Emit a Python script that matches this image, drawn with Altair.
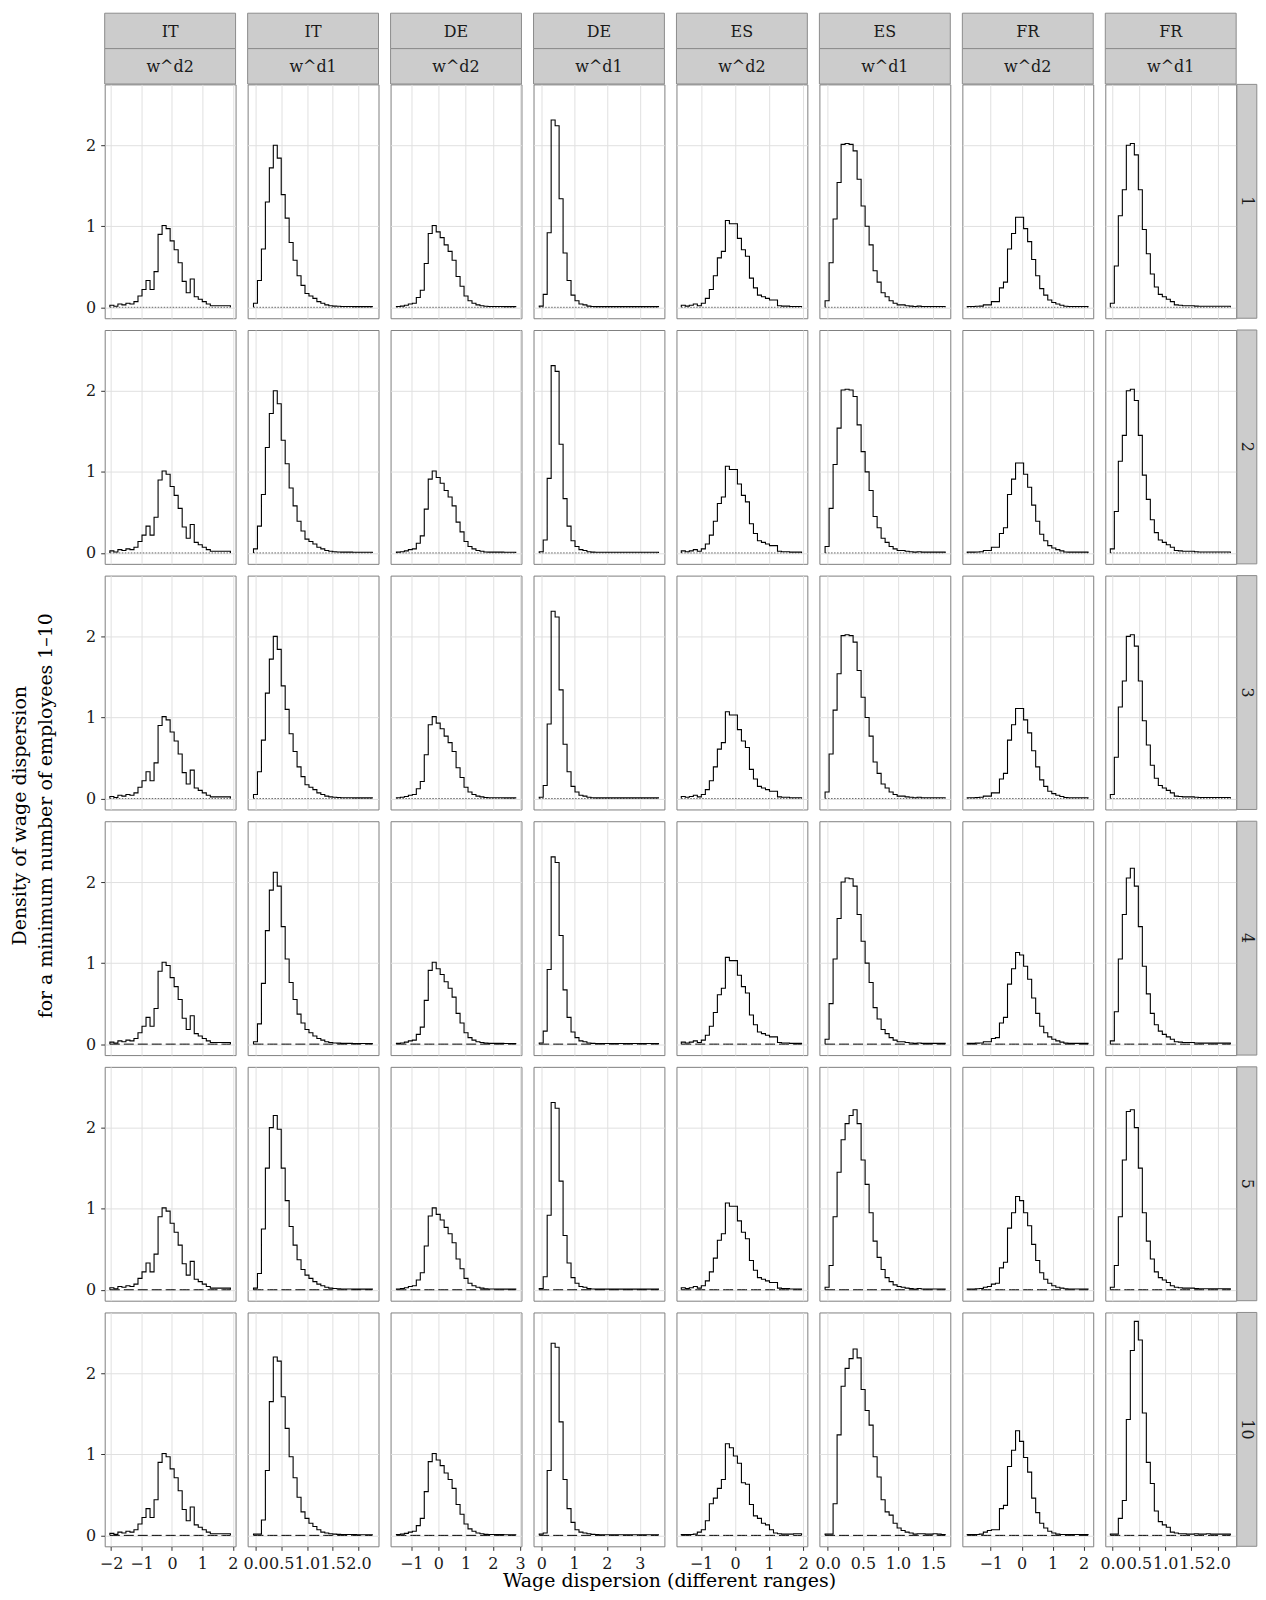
import altair as alt
import pandas as pd

FONT = "DejaVu Serif"

COUNTRIES = ["IT", "IT", "DE", "DE", "ES", "ES", "FR", "FR"]
MEASURES = ["w^d2", "w^d1", "w^d2", "w^d1", "w^d2", "w^d1", "w^d2", "w^d1"]
ROWS = ["1", "2", "3", "4", "5", "10"]

BIN_START = [-2.04, -0.04, -1.54, -0.06, -1.578, -0.038, -1.758, -0.044]
BIN_WIDTH = [0.132, 0.077, 0.146, 0.121, 0.1176, 0.057, 0.130, 0.0761]

X_DOMAIN = [[-2.21, 2.09], [-0.154, 2.39], [-1.755, 3.05], [-0.234, 3.75],
            [-1.72, 2.12], [-0.119, 1.745], [-1.916, 2.31], [-0.14, 2.35]]
X_TICKS = [[-2, -1, 0, 1, 2], [0, 0.5, 1, 1.5, 2], [-1, 0, 1, 2, 3], [0, 1, 2, 3],
           [-1, 0, 1, 2], [0, 0.5, 1, 1.5], [-1, 0, 1, 2], [0, 0.5, 1, 1.5, 2]]
X_FORMAT = ["d", ".1f", "d", "d", "d", ".1f", "d", ".1f"]
Y_TICKS = [0, 1, 2]
Y_DOMAIN = [-0.135, 2.75]

IT_D2 = [0.025, 0.012, 0.04, 0.03, 0.05, 0.04, 0.07, 0.14, 0.22, 0.33, 0.22, 0.44, 0.90, 1.01, 0.97,
         0.82, 0.71, 0.55, 0.32, 0.18, 0.35, 0.13, 0.10, 0.07, 0.04, 0.02, 0.02, 0.02, 0.02, 0.02]
IT_D1_R1 = [0.05, 0.33, 0.72, 1.30, 1.72, 2.00, 1.84, 1.39, 1.10, 0.80, 0.58, 0.39, 0.27, 0.17, 0.14,
            0.11, 0.07, 0.05, 0.03, 0.02, 0.015, 0.012, 0.01, 0.01, 0.01, 0.008, 0.008, 0.008, 0.008, 0.008]
IT_D1_R4 = [0.03, 0.25, 0.75, 1.40, 1.90, 2.12, 1.95, 1.45, 1.05, 0.76, 0.55, 0.37, 0.26, 0.18, 0.14,
            0.10, 0.07, 0.05, 0.03, 0.02, 0.015, 0.012, 0.01, 0.01, 0.01, 0.008, 0.008, 0.008, 0.008, 0.008]
IT_D1_R5 = [0.02, 0.20, 0.75, 1.50, 2.00, 2.15, 1.98, 1.50, 1.10, 0.78, 0.55, 0.37, 0.25, 0.18, 0.14,
            0.10, 0.07, 0.05, 0.03, 0.02, 0.015, 0.012, 0.01, 0.01, 0.01, 0.008, 0.008, 0.008, 0.008, 0.008]
IT_D1_R10 = [0.015, 0.015, 0.19, 0.80, 1.65, 2.20, 2.15, 1.71, 1.32, 0.97, 0.71, 0.47, 0.29, 0.21, 0.15,
             0.11, 0.07, 0.04, 0.03, 0.02, 0.015, 0.012, 0.01, 0.01, 0.01, 0.01, 0.008, 0.008, 0.008, 0.008]
DE_D2 = [0.01, 0.015, 0.025, 0.04, 0.05, 0.12, 0.21, 0.54, 0.91, 1.01, 0.93, 0.86, 0.77, 0.69, 0.58,
         0.38, 0.26, 0.14, 0.08, 0.05, 0.03, 0.02, 0.012, 0.01, 0.01, 0.01, 0.01, 0.008, 0.008, 0.008]
DE_D1_R1 = [0.015, 0.16, 0.92, 2.31, 2.24, 1.34, 0.67, 0.33, 0.15, 0.08, 0.04, 0.03, 0.015, 0.01, 0.008,
            0.008, 0.008, 0.008, 0.008, 0.008, 0.008, 0.008, 0.008, 0.008, 0.008, 0.008, 0.008, 0.008, 0.008, 0.008]
DE_D1_R10 = [0.015, 0.03, 0.80, 2.37, 2.32, 1.40, 0.69, 0.33, 0.16, 0.07, 0.04, 0.03, 0.02, 0.012, 0.01,
             0.008, 0.008, 0.008, 0.008, 0.008, 0.008, 0.008, 0.008, 0.008, 0.008, 0.008, 0.008, 0.008, 0.008, 0.008]
ES_D2_R1 = [0.025, 0.015, 0.025, 0.04, 0.02, 0.05, 0.11, 0.22, 0.39, 0.61, 0.69, 1.07, 1.03, 1.03, 0.85,
            0.71, 0.63, 0.36, 0.24, 0.15, 0.13, 0.11, 0.09, 0.09, 0.02, 0.015, 0.015, 0.01, 0.01, 0.01]
ES_D2_R10 = [0.01, 0.01, 0.01, 0.015, 0.04, 0.07, 0.18, 0.39, 0.46, 0.58, 0.69, 1.13, 1.08, 0.98, 0.89,
             0.65, 0.63, 0.38, 0.24, 0.21, 0.15, 0.13, 0.07, 0.03, 0.02, 0.015, 0.015, 0.015, 0.02, 0.02]
ES_D1_R1 = [0.08, 0.55, 1.09, 1.54, 2.01, 2.02, 2.01, 1.93, 1.58, 1.25, 1.00, 0.77, 0.45, 0.31, 0.18,
            0.13, 0.08, 0.05, 0.03, 0.03, 0.02, 0.015, 0.01, 0.015, 0.01, 0.01, 0.01, 0.01, 0.01, 0.01]
ES_D1_R4 = [0.06, 0.50, 1.05, 1.55, 2.00, 2.05, 2.04, 1.95, 1.60, 1.27, 1.00, 0.76, 0.45, 0.31, 0.18,
            0.13, 0.08, 0.05, 0.03, 0.03, 0.02, 0.015, 0.01, 0.015, 0.01, 0.01, 0.01, 0.01, 0.01, 0.01]
ES_D1_R5 = [0.03, 0.30, 0.90, 1.45, 1.85, 2.05, 2.15, 2.22, 2.05, 1.60, 1.30, 0.95, 0.60, 0.40, 0.25,
            0.15, 0.10, 0.06, 0.04, 0.03, 0.02, 0.015, 0.01, 0.015, 0.01, 0.01, 0.01, 0.01, 0.01, 0.01]
ES_D1_R10 = [0.015, 0.015, 0.39, 1.24, 1.84, 2.06, 2.18, 2.30, 2.19, 1.80, 1.54, 1.36, 0.97, 0.72, 0.44,
             0.29, 0.25, 0.15, 0.09, 0.06, 0.04, 0.03, 0.015, 0.02, 0.02, 0.015, 0.015, 0.02, 0.015, 0.01]
FR_D2_R1 = [0.01, 0.01, 0.012, 0.015, 0.03, 0.03, 0.07, 0.07, 0.24, 0.31, 0.72, 0.91, 1.11, 1.11, 0.97,
            0.81, 0.59, 0.39, 0.23, 0.15, 0.09, 0.06, 0.04, 0.025, 0.012, 0.01, 0.01, 0.01, 0.01, 0.01]
FR_D2_R4 = [0.01, 0.01, 0.012, 0.015, 0.03, 0.03, 0.07, 0.08, 0.26, 0.33, 0.74, 0.93, 1.13, 1.10, 0.96,
            0.80, 0.57, 0.38, 0.22, 0.14, 0.09, 0.06, 0.04, 0.025, 0.012, 0.01, 0.01, 0.01, 0.01, 0.01]
FR_D2_R5 = [0.01, 0.01, 0.012, 0.015, 0.03, 0.04, 0.07, 0.08, 0.27, 0.34, 0.76, 0.95, 1.15, 1.10, 0.95,
            0.79, 0.56, 0.36, 0.21, 0.13, 0.08, 0.05, 0.03, 0.02, 0.012, 0.01, 0.01, 0.01, 0.01, 0.01]
FR_D2_R10 = [0.01, 0.01, 0.01, 0.015, 0.04, 0.06, 0.07, 0.07, 0.33, 0.37, 0.85, 1.05, 1.29, 1.16, 0.96,
             0.78, 0.46, 0.28, 0.15, 0.09, 0.05, 0.03, 0.015, 0.01, 0.01, 0.01, 0.01, 0.01, 0.01, 0.01]
FR_D1_R1 = [0.05, 0.51, 1.13, 1.45, 2.00, 2.02, 1.88, 1.45, 0.96, 0.66, 0.41, 0.25, 0.16, 0.13, 0.10,
            0.07, 0.03, 0.025, 0.02, 0.02, 0.02, 0.015, 0.012, 0.012, 0.012, 0.012, 0.012, 0.012, 0.012, 0.012]
FR_D1_R4 = [0.04, 0.40, 1.05, 1.60, 2.05, 2.17, 1.95, 1.45, 0.96, 0.62, 0.38, 0.24, 0.16, 0.12, 0.09,
            0.06, 0.03, 0.025, 0.02, 0.02, 0.02, 0.015, 0.012, 0.012, 0.012, 0.012, 0.012, 0.012, 0.012, 0.012]
FR_D1_R5 = [0.03, 0.30, 0.90, 1.60, 2.20, 2.22, 2.00, 1.50, 0.95, 0.60, 0.38, 0.22, 0.15, 0.12, 0.09,
            0.05, 0.03, 0.025, 0.02, 0.02, 0.02, 0.015, 0.012, 0.012, 0.012, 0.012, 0.012, 0.012, 0.012, 0.012]
FR_D1_R10 = [0.015, 0.015, 0.21, 0.43, 1.43, 2.28, 2.64, 2.41, 1.51, 0.90, 0.64, 0.30, 0.17, 0.13, 0.10,
             0.04, 0.03, 0.02, 0.02, 0.015, 0.015, 0.02, 0.015, 0.015, 0.02, 0.015, 0.015, 0.015, 0.015, 0.015]

SERIES = {
    0: {"1": IT_D2, "2": IT_D2, "3": IT_D2, "4": IT_D2, "5": IT_D2, "10": IT_D2},
    1: {"1": IT_D1_R1, "2": IT_D1_R1, "3": IT_D1_R1, "4": IT_D1_R4, "5": IT_D1_R5, "10": IT_D1_R10},
    2: {"1": DE_D2, "2": DE_D2, "3": DE_D2, "4": DE_D2, "5": DE_D2, "10": DE_D2},
    3: {"1": DE_D1_R1, "2": DE_D1_R1, "3": DE_D1_R1, "4": DE_D1_R1, "5": DE_D1_R1, "10": DE_D1_R10},
    4: {"1": ES_D2_R1, "2": ES_D2_R1, "3": ES_D2_R1, "4": ES_D2_R1, "5": ES_D2_R1, "10": ES_D2_R10},
    5: {"1": ES_D1_R1, "2": ES_D1_R1, "3": ES_D1_R1, "4": ES_D1_R4, "5": ES_D1_R5, "10": ES_D1_R10},
    6: {"1": FR_D2_R1, "2": FR_D2_R1, "3": FR_D2_R1, "4": FR_D2_R4, "5": FR_D2_R5, "10": FR_D2_R10},
    7: {"1": FR_D1_R1, "2": FR_D1_R1, "3": FR_D1_R1, "4": FR_D1_R4, "5": FR_D1_R5, "10": FR_D1_R10},
}

records = []
for ci in range(8):
    a, bw = BIN_START[ci], BIN_WIDTH[ci]
    for r in ROWS:
        vals = SERIES[ci][r]
        end = a + len(vals) * bw
        pts = [(a, 0.0)] + [(a + k * bw, v) for k, v in enumerate(vals)] + [(end, vals[-1]), (end, 0.0)]
        for i, (x, y) in enumerate(pts):
            records.append({"panel": ci, "row": r, "i": i, "x": x, "y": y})
df = pd.DataFrame(records)

W = 131.3
H = 234.6
SP = 11.4
STRIP_W = 20
HEAD_H = 71
TRANSPARENT = alt.ViewBackground(stroke="transparent")
STRIP_FONT = 16


def header(ci):
    d = pd.DataFrame({"c": [COUNTRIES[ci]], "m": [MEASURES[ci]]})
    base = alt.Chart(d)
    r1 = base.mark_rect(fill="#cccccc", stroke="#8c8c8c", strokeWidth=1).encode(
        x=alt.value(0), x2=alt.value(W), y=alt.value(0), y2=alt.value(HEAD_H / 2))
    r2 = base.mark_rect(fill="#cccccc", stroke="#8c8c8c", strokeWidth=1).encode(
        x=alt.value(0), x2=alt.value(W), y=alt.value(HEAD_H / 2), y2=alt.value(HEAD_H))
    t1 = base.mark_text(font=FONT, fontSize=STRIP_FONT, color="#1a1a1a", baseline="middle").encode(
        x=alt.value(W / 2), y=alt.value(HEAD_H / 4 + 1), text="c:N")
    t2 = base.mark_text(font=FONT, fontSize=STRIP_FONT, color="#1a1a1a", baseline="middle").encode(
        x=alt.value(W / 2), y=alt.value(3 * HEAD_H / 4 + 1), text="m:N")
    return alt.layer(r1, r2, t1, t2).properties(width=W, height=HEAD_H - SP, view=TRANSPARENT)


def empty(height):
    d = pd.DataFrame({"z": [0]})
    return alt.Chart(d).mark_point(opacity=0, size=1).encode(
        x=alt.value(1), y=alt.value(1)).properties(width=STRIP_W - SP, height=height, view=TRANSPARENT)


def rstrip(label):
    d = pd.DataFrame({"r": [label]})
    base = alt.Chart(d)
    rect = base.mark_rect(fill="#cccccc", stroke="#8c8c8c", strokeWidth=1).encode(
        x=alt.value(-SP), x2=alt.value(STRIP_W - SP), y=alt.value(0), y2=alt.value(H))
    txt = base.mark_text(font=FONT, fontSize=STRIP_FONT, color="#1a1a1a", angle=90, baseline="middle").encode(
        x=alt.value(STRIP_W / 2 - SP), y=alt.value(H / 2), text="r:N")
    return alt.layer(rect, txt).properties(width=STRIP_W - SP, height=H, view=TRANSPARENT)


def panel(ci, r):
    bottom = r == ROWS[-1]
    left = ci == 0
    xkw = dict(values=X_TICKS[ci], format=X_FORMAT[ci], labels=bottom, ticks=bottom, domain=False,
               grid=True, labelOverlap=False, labelFlush=False, tickSize=4, labelPadding=5)
    if bottom and ci == 3:
        xkw.update(title="Wage dispersion (different ranges)", titleX=136, titleY=40,
                   titleBaseline="alphabetic", titleAlign="center")
    else:
        xkw["title"] = None
    ykw = dict(values=Y_TICKS, format="d", labels=left, ticks=left, domain=False, grid=True,
               labelOverlap=False, labelFlush=False, tickSize=4, labelPadding=5)
    if left and r == "4":
        ykw.update(title=["Density of wage dispersion", "for a minimum number of employees 1\u201310"],
                   titleX=-94, titleY=-6, titleBaseline="top", titleAlign="center", titleAngle=270,
                   titleLineHeight=26)
    else:
        ykw["title"] = None
    xenc = alt.X("x:Q", scale=alt.Scale(domain=X_DOMAIN[ci], nice=False, zero=False), axis=alt.Axis(**xkw))
    yenc = alt.Y("y:Q", scale=alt.Scale(domain=Y_DOMAIN, nice=False, zero=False), axis=alt.Axis(**ykw))
    base = alt.Chart().transform_filter((alt.datum.panel == ci) & (alt.datum.row == r))
    if r in ("1", "2", "3"):
        zero = base.mark_line(color="#444444", strokeWidth=0.8, strokeDash=[1.5, 1.5]).encode(
            x=xenc, y=alt.datum(0))
    else:
        zero = base.mark_line(color="black", strokeWidth=1, strokeDash=[10, 4]).encode(
            x=xenc, y=alt.datum(0))
    step = base.mark_line(interpolate="step-after", color="black", strokeWidth=1.1).encode(
        x=xenc, y=yenc, order="i:Q")
    return alt.layer(zero, step).properties(width=W, height=H)


cells = [header(ci) for ci in range(8)] + [empty(HEAD_H - SP)]
for r in ROWS:
    cells += [panel(ci, r) for ci in range(8)] + [rstrip(r)]

chart = alt.concat(*cells, columns=9, spacing=SP, data=df, bounds="flush").properties(
    background="white",
    padding={"left": 2, "top": 1.7, "right": 0, "bottom": 2}
).configure(font=FONT).configure_view(stroke="#7f7f7f", strokeWidth=1).configure_axis(
    labelFont=FONT, labelFontSize=16, labelColor="#1a1a1a", tickColor="#333333", tickWidth=1,
    gridColor="#e0e0e0", gridWidth=1, titleFont=FONT, titleFontSize=19, titleFontWeight="normal",
    titleColor="black"
)

chart.save("out.html", embed_options={"renderer": "svg", "actions": False})
